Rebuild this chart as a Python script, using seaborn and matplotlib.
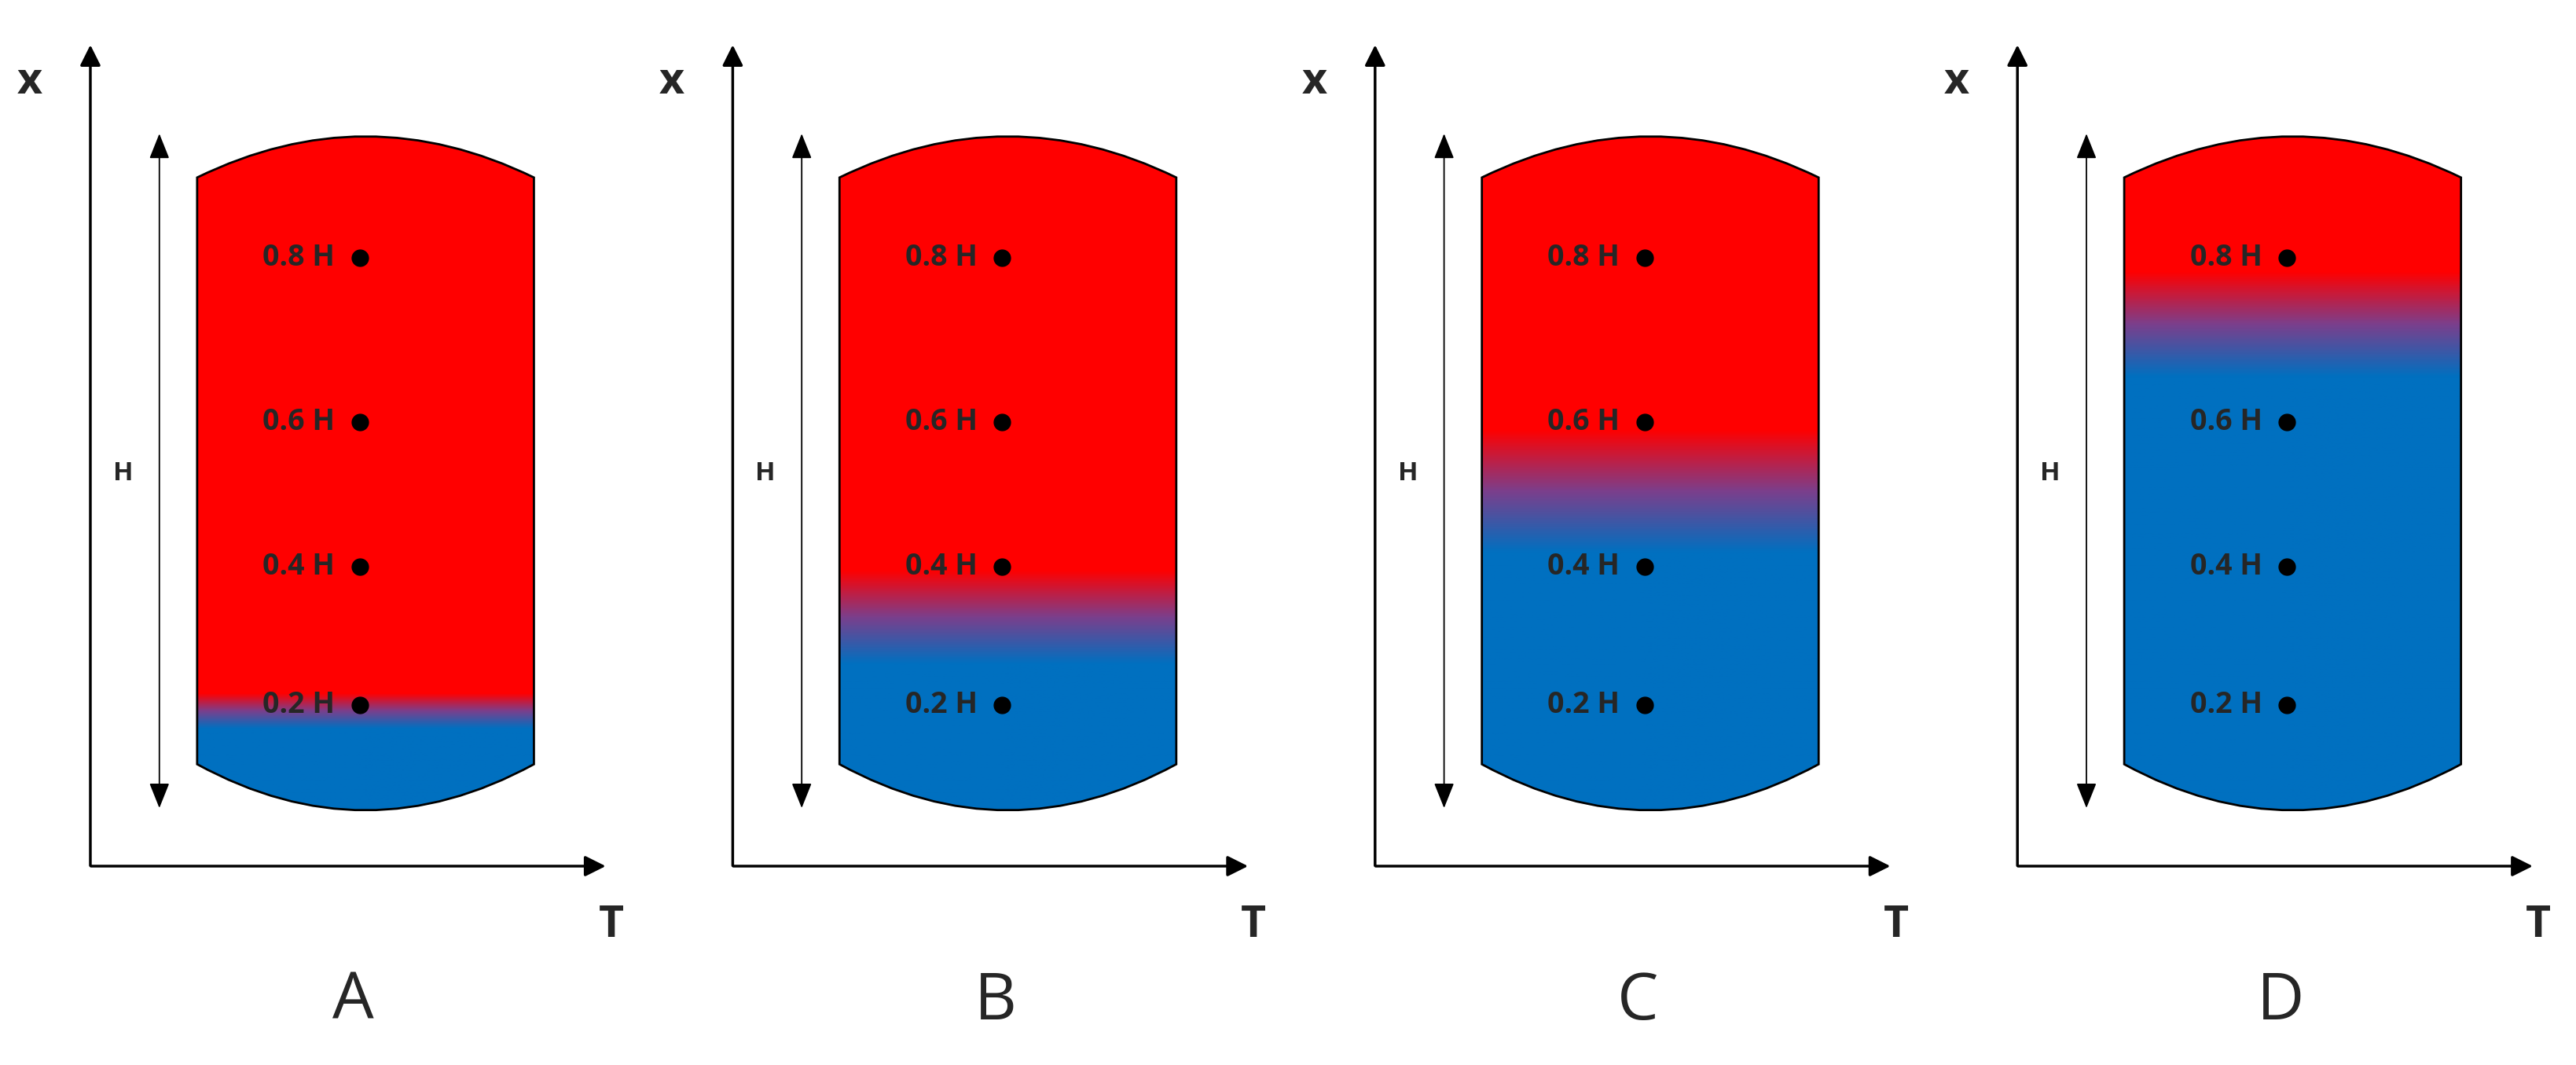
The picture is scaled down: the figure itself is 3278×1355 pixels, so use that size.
import numpy as np
import seaborn as sns
import matplotlib.pyplot as plt
from matplotlib.path import Path
from matplotlib.patches import PathPatch, FancyArrowPatch
from matplotlib.colors import LinearSegmentedColormap

sns.set_style("white")
plt.rcParams['font.family'] = ['Open Sans', 'DejaVu Sans']

# Data: panels and thermocline band (top, bottom) in relative tank height (0 = bottom, 1 = top)
panels = ['A', 'B', 'C', 'D']
thermo_top = [0.12, 0.33, 0.57, 0.84]
thermo_bot = [0.06, 0.17, 0.36, 0.66]
sensor_labels = ['0.8 H', '0.6 H', '0.4 H', '0.2 H']
sensor_y = [157, 257, 345, 429]   # picture units

red, blue = '#FF0000', '#0070C0'
cmap = LinearSegmentedColormap.from_list('tank', [blue, '#7B3F8C', red])

fig = plt.figure(figsize=(32.78, 13.55), dpi=100)
ax = fig.add_axes([0, 0, 1, 1])
ax.set_xlim(0, 1568)
ax.set_ylim(648, 0)
ax.axis('off')

tank_top, tank_bot = 108, 465
dome = 25
for i, name in enumerate(panels):
    ox = 391 * i
    # axes arrows
    ax.annotate('', xy=(ox + 55, 26), xytext=(ox + 55, 528),
                arrowprops=dict(arrowstyle='-|>,head_width=0.8,head_length=1.6', lw=2.5, color='black'))
    ax.annotate('', xy=(ox + 370, 527), xytext=(ox + 54, 527),
                arrowprops=dict(arrowstyle='-|>,head_width=0.8,head_length=1.6', lw=2.5, color='black'))
    ax.text(ox + 18, 50, 'x', fontsize=40, fontweight='bold', ha='center', va='center')
    ax.text(ox + 372, 563, 'T', fontsize=40, fontweight='bold', ha='center', va='center')
    ax.text(ox + 215, 610, name, fontsize=60, ha='center', va='center')
    # H arrow
    ax.add_patch(FancyArrowPatch((ox + 97, 80), (ox + 97, 493), arrowstyle='<|-|>,head_width=4,head_length=10',
                                 lw=1.3, color='black', mutation_scale=2))
    ax.text(ox + 75, 288, 'H', fontsize=24, fontweight='bold', ha='center', va='center')
    # tank outline
    xl, xr = ox + 120, ox + 325
    xm = (xl + xr) / 2
    verts = [(xl, tank_top), (xm, tank_top - 2 * dome), (xr, tank_top),
             (xr, tank_bot), (xm, tank_bot + 2 * dome + 6), (xl, tank_bot), (xl, tank_top)]
    codes = [Path.MOVETO, Path.CURVE3, Path.CURVE3, Path.LINETO, Path.CURVE3, Path.CURVE3, Path.CLOSEPOLY]
    patch = PathPatch(Path(verts, codes), facecolor='none', edgecolor='black', lw=2, zorder=3)
    ax.add_patch(patch)
    # gradient fill
    ys = np.linspace(tank_top - dome, tank_bot + dome + 3, 400)
    rel = (tank_bot - ys) / (tank_bot - tank_top)
    val = np.clip((rel - thermo_bot[i]) / (thermo_top[i] - thermo_bot[i]), 0, 1)
    img = ax.imshow(val[:, None], cmap=cmap, vmin=0, vmax=1, aspect='auto',
                    extent=(xl, xr, ys[-1], ys[0]), origin='upper', zorder=2)
    img.set_clip_path(patch)
    # sensors
    for lab, sy in zip(sensor_labels, sensor_y):
        ax.plot(ox + 219, sy, 'o', color='black', ms=15, zorder=4)
        ax.text(ox + 204, sy, lab, fontsize=27, fontweight='bold', ha='right', va='center', zorder=4)

ax.set_xlim(0, 1568)
ax.set_ylim(648, 0)
fig.savefig('out.png', dpi=100)
